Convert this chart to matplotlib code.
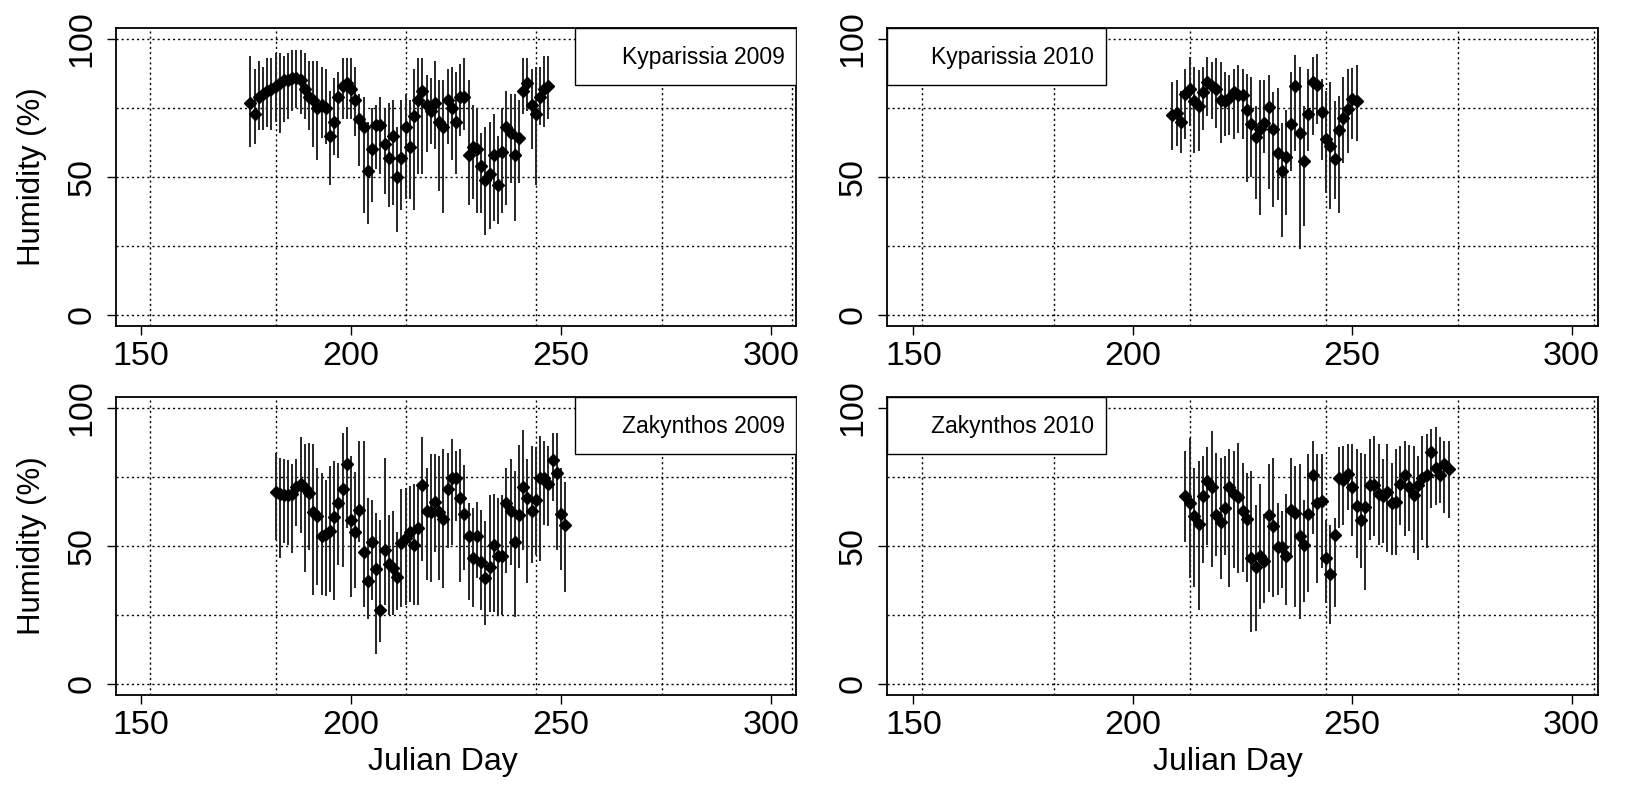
import numpy as np
import matplotlib
matplotlib.use("Agg")
import matplotlib.pyplot as plt
from matplotlib import font_manager
from matplotlib.patches import Rectangle

plt.rcParams['font.family'] = ['Liberation Sans', 'DejaVu Sans']

# narrow face for the panel labels, if the system has it
names = {f.name for f in font_manager.fontManager.ttflist}
if 'Liberation Sans Narrow' in names:
    label_font, label_size = ['Liberation Sans Narrow', 'Liberation Sans'], 19
else:
    label_font, label_size = ['Liberation Sans', 'DejaVu Sans'], 16.5

# Kyparissia 2009, days 176-247
ky09_start = 176
ky09_mean = [77, 73, 79, 80, 81, 82, 83, 84, 85, 85,
             86, 86, 85, 82, 79, 78, 75, 76, 75, 65,
             70, 79, 83, 84, 82, 78, 71, 68, 52, 60,
             69, 69, 62, 57, 65, 50, 57, 68, 61, 72,
             78, 81, 76, 74, 77, 70, 68, 78, 75, 70,
             79, 79, 58, 61, 60, 54, 49, 51, 58, 47,
             59, 68, 66, 58, 64, 81, 84, 76, 73, 79,
             82, 83]
ky09_high = [94, 89, 92, 90, 93, 93, 95, 95, 94, 95,
             96, 96, 96, 95, 92, 92, 92, 90, 89, 81,
             86, 88, 93, 93, 93, 90, 80, 79, 70, 75,
             76, 79, 75, 77, 78, 68, 78, 80, 78, 89,
             93, 93, 87, 86, 92, 85, 85, 89, 90, 88,
             91, 93, 85, 76, 75, 66, 68, 70, 73, 65,
             75, 81, 80, 80, 78, 93, 93, 89, 90, 90,
             94, 94]
ky09_low = [61, 62, 67, 67, 68, 67, 70, 66, 70, 71,
            74, 75, 73, 71, 67, 61, 56, 64, 62, 47,
            58, 57, 71, 71, 71, 65, 54, 37, 33, 41,
            53, 51, 44, 39, 40, 30, 38, 42, 42, 38,
            51, 51, 59, 62, 60, 45, 37, 62, 56, 51,
            65, 67, 40, 42, 37, 37, 29, 31, 34, 33,
            37, 40, 48, 34, 48, 73, 74, 60, 47, 69,
            68, 71]

# Kyparissia 2010, days 209-251
ky10_start = 209
ky10_mean = [72.5, 73.3, 70.0, 80.1, 81.9, 77.6, 75.8, 80.7, 84.6, 82.9,
             81.9, 78.0, 77.6, 78.5, 80.7, 79.7, 79.7, 74.3, 69.1, 64.4,
             67.5, 69.4, 75.2, 67.5, 58.7, 52.0, 57.2, 69.1, 82.8, 66.0,
             55.9, 73.0, 84.6, 83.5, 73.6, 63.8, 61.1, 56.5, 67.0, 71.3,
             74.6, 78.2, 77.6]
ky10_high = [84.4, 85.0, 81.3, 89.2, 93.5, 89.9, 88.6, 89.9, 93.5, 91.7,
             93.2, 91.7, 88.0, 86.8, 89.2, 90.5, 89.2, 87.4, 86.2, 75.8,
             85.0, 85.0, 87.0, 80.7, 82.2, 69.4, 74.3, 88.0, 94.1, 89.9,
             75.8, 89.2, 93.5, 94.7, 85.6, 81.3, 84.4, 77.6, 79.5, 86.2,
             89.2, 89.5, 90.5]
ky10_low = [59.9, 61.1, 58.7, 63.6, 68.5, 58.7, 59.3, 67.2, 72.1, 70.9,
            67.8, 62.3, 64.8, 65.4, 63.6, 66.0, 63.6, 48.3, 50.1, 42.2,
            36.1, 58.7, 45.8, 39.1, 41.6, 28.1, 36.1, 52.0, 59.3, 23.8,
            32.4, 59.3, 65.4, 69.1, 56.2, 44.3, 38.5, 42.2, 36.9, 55.0,
            58.7, 63.6, 63.0]

# Zakynthos 2009, days 182-251
za09_start = 182
za09_mean = [69.6, 68.9, 68.4, 68.4, 68.9, 71.3, 72.3, 71.1, 69.3, 62.2,
             60.8, 53.5, 54.3, 55.5, 60.4, 65.6, 70.5, 79.6, 59.5, 55.0,
             62.9, 48.0, 37.3, 51.6, 41.6, 26.7, 48.4, 43.4, 41.9, 38.9,
             51.0, 52.9, 55.0, 50.4, 56.5, 72.1, 62.6, 62.3, 66.0, 62.2,
             59.9, 70.5, 74.5, 74.5, 67.4, 61.6, 53.5, 45.8, 53.5, 44.3,
             38.3, 42.3, 50.2, 46.5, 46.2, 65.6, 62.8, 51.6, 61.1, 71.3,
             67.4, 62.6, 66.8, 74.5, 74.5, 72.5, 81.0, 76.5, 61.6, 57.7]
za09_high = [83.8, 82.0, 81.4, 81.0, 79.8, 81.4, 89.5, 86.9, 87.5, 87.1,
             78.4, 76.5, 74.1, 79.0, 80.8, 80.2, 90.8, 93.0, 82.6, 76.9,
             88.1, 88.1, 67.4, 66.8, 62.0, 59.5, 81.8, 61.4, 62.8, 55.0,
             70.5, 71.1, 71.7, 72.3, 72.3, 89.5, 78.4, 83.2, 83.5, 82.6,
             85.1, 83.8, 88.7, 84.4, 85.1, 79.3, 65.6, 63.8, 66.0, 63.2,
             58.9, 68.6, 68.9, 67.4, 68.4, 78.4, 81.4, 77.2, 86.6, 92.0,
             81.4, 86.3, 85.9, 89.9, 88.1, 86.3, 91.1, 91.1, 78.4, 73.1]
za09_low = [52.2, 45.6, 51.0, 50.4, 47.4, 57.1, 54.7, 40.7, 48.6, 32.4,
            35.8, 32.2, 32.0, 33.4, 30.4, 43.1, 42.5, 56.5, 31.6, 34.6,
            51.6, 27.9, 23.7, 30.4, 11.0, 15.2, 28.6, 24.9, 24.9, 26.7,
            27.9, 28.6, 29.8, 28.6, 28.6, 44.4, 37.7, 37.1, 48.0, 37.7,
            34.6, 49.2, 50.4, 58.9, 37.1, 41.3, 30.4, 27.9, 38.3, 26.7,
            21.3, 26.1, 26.1, 24.9, 24.9, 40.1, 43.1, 24.3, 41.9, 48.6,
            36.5, 43.7, 46.8, 44.4, 57.7, 57.1, 66.2, 48.6, 41.3, 33.4]

# Zakynthos 2010, days 212-272
za10_start = 212
za10_mean = [68.0, 65.6, 60.8, 58.0, 68.0, 73.5, 71.3, 61.1, 58.6, 63.8,
             71.3, 68.9, 67.7, 62.8, 59.8, 45.8, 42.5, 46.2, 44.6, 61.1,
             57.4, 49.5, 49.5, 46.4, 63.2, 62.0, 53.8, 50.4, 61.6, 75.9,
             65.6, 66.4, 45.8, 39.7, 54.1, 74.7, 73.8, 76.2, 71.3, 64.4,
             59.5, 64.0, 72.1, 72.1, 68.9, 68.0, 69.6, 65.6, 66.0, 72.3,
             75.7, 71.3, 68.6, 72.1, 74.7, 75.7, 84.2, 78.4, 75.7, 79.8,
             77.8]
za10_high = [84.4, 89.2, 78.4, 80.8, 82.6, 85.7, 91.7, 83.8, 81.8, 82.6,
             85.1, 84.4, 87.5, 80.2, 76.5, 77.2, 64.8, 72.3, 61.6, 79.8,
             82.0, 65.6, 62.6, 68.9, 82.0, 79.0, 79.8, 66.8, 83.2, 88.1,
             83.5, 83.2, 59.5, 57.7, 60.1, 85.7, 86.3, 87.1, 87.1, 85.1,
             83.8, 83.2, 88.7, 89.9, 86.9, 81.4, 86.9, 80.2, 85.1, 86.3,
             88.1, 86.6, 86.3, 82.6, 89.9, 90.5, 92.4, 93.0, 89.4, 88.2,
             88.2]
za10_low = [51.6, 38.3, 35.2, 26.7, 43.7, 50.4, 42.5, 46.2, 38.0, 46.8,
            35.2, 41.9, 40.1, 40.7, 37.1, 18.8, 19.1, 27.3, 29.2, 33.2,
            31.6, 32.2, 34.6, 28.6, 45.6, 27.9, 23.7, 29.8, 33.4, 54.2,
            36.5, 41.9, 29.2, 21.9, 27.9, 56.5, 57.7, 63.2, 53.5, 45.6,
            41.9, 34.0, 52.2, 53.5, 50.4, 51.0, 48.0, 46.8, 46.8, 57.7,
            53.5, 55.3, 47.4, 45.0, 52.2, 49.2, 63.7, 65.0, 65.6, 61.9,
            60.1]

titles = ['Kyparissia 2009', 'Kyparissia 2010', 'Zakynthos 2009', 'Zakynthos 2010']
x_ticks = [150, 200, 250, 300]
y_ticks = [0, 50, 100]
grid_x = [152, 182, 213, 244, 274, 305]   # first day of each month
grid_y = [0, 25, 50, 75, 100]

W, H = 1629, 787
fig = plt.figure(figsize=(W / 100, H / 100), dpi=100)


def add_panel(left, right, top, bottom):
    return fig.add_axes([left / W, 1 - bottom / H, (right - left) / W, (bottom - top) / H])


panels = [
    (add_panel(116, 796, 28, 326), ky09_start, ky09_mean, ky09_high, ky09_low, titles[0], 'right'),
    (add_panel(887, 1598, 28, 326), ky10_start, ky10_mean, ky10_high, ky10_low, titles[1], 'left'),
    (add_panel(116, 796, 397, 695), za09_start, za09_mean, za09_high, za09_low, titles[2], 'right'),
    (add_panel(887, 1598, 397, 695), za10_start, za10_mean, za10_high, za10_low, titles[3], 'left'),
]

for i, (ax, start, mean, high, low, title, side) in enumerate(panels):
    days = np.arange(start, start + len(mean))
    ax.set_xlim(144, 306)
    ax.set_ylim(-4, 104)

    for gx in grid_x:
        ax.axvline(gx, color='black', lw=1.0, ls=(0, (1.5, 2.2)), zorder=1)
    for gy in grid_y:
        ax.axhline(gy, color='black', lw=1.0, ls=(0, (1.5, 2.2)), zorder=1)

    ax.vlines(days, low, high, color='#262626', lw=1.4, zorder=2)
    ax.plot(days, mean, ls='none', marker='D', ms=5.8, color='black', zorder=3)

    # legend-style label box
    if side == 'right':
        bx0, bx1 = 253.4, 306
    else:
        bx0, bx1 = 144, 193.8
    ax.add_patch(Rectangle((bx0, 83.2), bx1 - bx0, 104 - 83.2, facecolor='white',
                           edgecolor='black', lw=1.0, zorder=4))
    ax.text(bx1 - 2.7, 93.3, title, ha='right', va='center', fontsize=label_size,
            family=label_font, zorder=5)

    ax.set_xticks(x_ticks)
    ax.set_yticks(y_ticks)
    ax.set_yticklabels([str(v) for v in y_ticks], rotation=90, va='center')
    ax.tick_params(direction='out', length=6.5, width=1.0, labelsize=24.5)
    ax.tick_params(axis='x', pad=4)
    ax.tick_params(axis='y', pad=7)
    for sp in ax.spines.values():
        sp.set_linewidth(1.3)

    if i % 2 == 0:
        ax.set_ylabel('Humidity (%)', fontsize=22.5)
        ax.yaxis.set_label_coords(-0.124, 0.5)
        ax.yaxis.label.set_va('center')
    if i >= 2:
        ax.set_xlabel('Julian Day', fontsize=23)
        ax.xaxis.set_label_coords(0.48, -0.225)
        ax.xaxis.label.set_va('center')

fig.savefig('out.png', dpi=100)
